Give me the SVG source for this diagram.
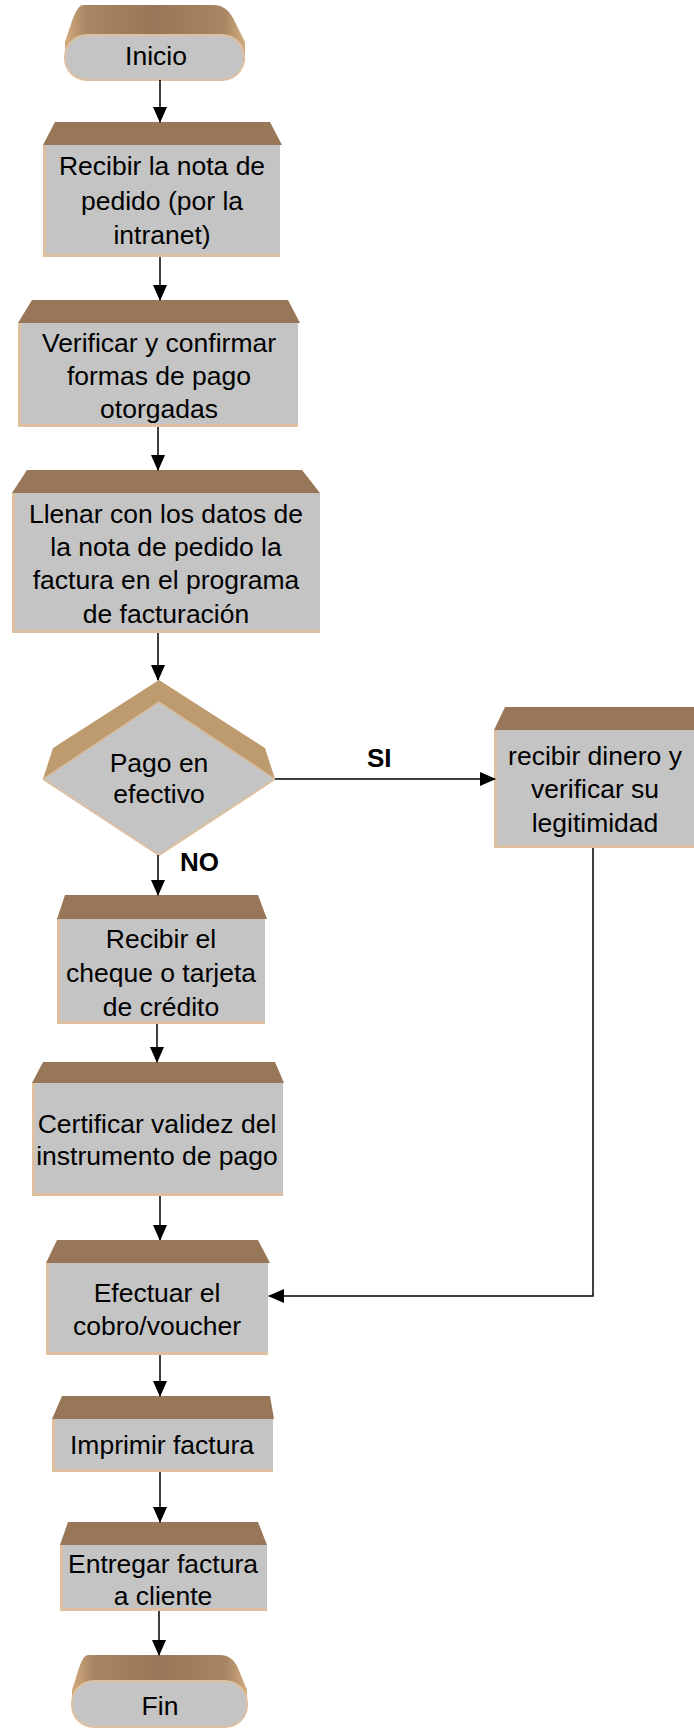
<svg xmlns="http://www.w3.org/2000/svg" width="694" height="1729" viewBox="0 0 694 1729">
<defs>
<linearGradient id="tg" x1="0" y1="0" x2="1" y2="0">
<stop offset="0" stop-color="#d2ab7e"/>
<stop offset="0.12" stop-color="#a88664"/>
<stop offset="0.5" stop-color="#977757"/>
<stop offset="0.88" stop-color="#a88664"/>
<stop offset="1" stop-color="#d2ab7e"/>
</linearGradient>
<marker id="ah" markerWidth="16" markerHeight="14" refX="15" refY="7" orient="auto" markerUnits="userSpaceOnUse">
<path d="M0,0 L16,7 L0,14 Z" fill="#000"/>
</marker>
</defs>
<style>
.top{fill:#977757}
.front{fill:#c4c4c4}
.edge{fill:none;stroke:#dcc0a0;stroke-width:3}
.t{font-family:"Liberation Sans",Arial,sans-serif;font-size:26.5px;fill:#000;text-anchor:middle}
.lb{font-family:"Liberation Sans",Arial,sans-serif;font-size:26px;font-weight:bold;fill:#000}
.c{fill:none;stroke:#000;stroke-width:1.5}
</style>
<rect width="694" height="1729" fill="#fff"/>

<g id="inicio">
<path d="M83,5 L213,5 Q226,5 233,18 L245,42 L245,62 L65,62 L65,42 L73,18 Q78,5 83,5 Z" fill="url(#tg)"/>
<rect x="65" y="35" width="179" height="45" rx="22" ry="22" fill="#c4c4c4" stroke="#dcc0a0" stroke-width="2"/>
<text class="t" x="156" y="65">Inicio</text>
</g>

<g id="n1">
<polygon class="top" points="55,122 270,122 282,145 43,145"/>
<rect class="front" x="43" y="145" width="237" height="112"/>
<polyline class="edge" points="44.5,145 44.5,255.5 280,255.5"/>
<text class="t" x="162" y="175">Recibir la nota de</text>
<text class="t" x="162" y="210">pedido (por la</text>
<text class="t" x="162" y="244">intranet)</text>
</g>

<g id="n2">
<polygon class="top" points="32,300 288,300 300,323 18,323"/>
<rect class="front" x="18" y="323" width="280" height="104"/>
<polyline class="edge" points="19.5,323 19.5,425.5 298,425.5"/>
<text class="t" x="159" y="352">Verificar y confirmar</text>
<text class="t" x="159" y="385">formas de pago</text>
<text class="t" x="159" y="418">otorgadas</text>
</g>

<g id="n3">
<polygon class="top" points="27,470 302,470 320,493 12,493"/>
<rect class="front" x="12" y="493" width="308" height="140"/>
<polyline class="edge" points="13.5,493 13.5,631.5 320,631.5"/>
<text class="t" x="166" y="523">Llenar con los datos de</text>
<text class="t" x="166" y="556">la nota de pedido la</text>
<text class="t" x="166" y="589">factura en el programa</text>
<text class="t" x="166" y="623">de facturación</text>
</g>

<g id="d1">
<polygon points="159,680 265,748 275,779 159,702 43,779 53,748" fill="#bd9b6f"/>
<polygon points="159,702 275,779 159,855 43,779" fill="#c4c4c4"/>
<polyline points="43,779 159,855 275,779" fill="none" stroke="#dcc0a0" stroke-width="2"/>
<polyline points="43,779 159,702 275,779" fill="none" stroke="#d6b896" stroke-width="1.5"/>
<text class="t" x="159" y="772">Pago en</text>
<text class="t" x="159" y="803">efectivo</text>
</g>

<g id="n4">
<polygon class="top" points="65,895 258,895 267,919 57,919"/>
<rect class="front" x="57" y="919" width="208" height="105"/>
<polyline class="edge" points="58.5,919 58.5,1022.5 265,1022.5"/>
<text class="t" x="161" y="948">Recibir el</text>
<text class="t" x="161" y="982">cheque o tarjeta</text>
<text class="t" x="161" y="1016">de crédito</text>
</g>

<g id="n5">
<polygon class="top" points="43,1062 275,1062 284,1083 32,1083"/>
<rect class="front" x="32" y="1083" width="251" height="113"/>
<polyline class="edge" points="33.5,1083 33.5,1194.5 283,1194.5"/>
<text class="t" x="157" y="1133">Certificar validez del</text>
<text class="t" x="157" y="1165">instrumento de pago</text>
</g>

<g id="n6">
<polygon class="top" points="57,1240 258,1240 270,1263 46,1263"/>
<rect class="front" x="46" y="1263" width="222" height="92"/>
<polyline class="edge" points="47.5,1263 47.5,1353.5 268,1353.5"/>
<text class="t" x="157" y="1302">Efectuar el</text>
<text class="t" x="157" y="1335">cobro/voucher</text>
</g>

<g id="n7">
<polygon class="top" points="62,1396 270,1396 274,1419 52,1419"/>
<rect class="front" x="52" y="1419" width="221" height="53"/>
<polyline class="edge" points="53.5,1419 53.5,1470.5 273,1470.5"/>
<text class="t" x="162" y="1454">Imprimir factura</text>
</g>

<g id="n8">
<polygon class="top" points="68,1522 258,1522 267,1545 60,1545"/>
<rect class="front" x="60" y="1545" width="207" height="66"/>
<polyline class="edge" points="61.5,1545 61.5,1609.5 267,1609.5"/>
<text class="t" x="163" y="1573">Entregar factura</text>
<text class="t" x="163" y="1605">a cliente</text>
</g>

<g id="nr">
<polygon class="top" points="505,707 694,707 694,730 494,730"/>
<rect class="front" x="494" y="730" width="200" height="118"/>
<polyline class="edge" points="495.5,730 495.5,846.5 694,846.5"/>
<text class="t" x="595" y="765">recibir dinero y</text>
<text class="t" x="595" y="798">verificar su</text>
<text class="t" x="595" y="832">legitimidad</text>
</g>

<g id="fin">
<path d="M88,1655 L220,1655 Q232,1655 238,1668 L247,1690 L247,1705 L72,1705 L72,1690 L79,1668 Q83,1655 88,1655 Z" fill="url(#tg)"/>
<rect x="72" y="1681" width="175" height="46" rx="22" ry="22" fill="#c4c4c4" stroke="#dcc0a0" stroke-width="2"/>
<text class="t" x="160" y="1715">Fin</text>
</g>

<g id="connectors">
<line class="c" x1="160" y1="80" x2="160" y2="122" marker-end="url(#ah)"/>
<line class="c" x1="160" y1="257" x2="160" y2="300" marker-end="url(#ah)"/>
<line class="c" x1="158" y1="427" x2="158" y2="470" marker-end="url(#ah)"/>
<line class="c" x1="158" y1="633" x2="158" y2="680" marker-end="url(#ah)"/>
<line class="c" x1="158" y1="855" x2="158" y2="895" marker-end="url(#ah)"/>
<line class="c" x1="157" y1="1024" x2="157" y2="1062" marker-end="url(#ah)"/>
<line class="c" x1="160" y1="1196" x2="160" y2="1240" marker-end="url(#ah)"/>
<line class="c" x1="160" y1="1355" x2="160" y2="1396" marker-end="url(#ah)"/>
<line class="c" x1="160" y1="1472" x2="160" y2="1522" marker-end="url(#ah)"/>
<line class="c" x1="159" y1="1611" x2="159" y2="1655" marker-end="url(#ah)"/>
<line class="c" x1="275" y1="779" x2="495" y2="779" marker-end="url(#ah)"/>
<polyline class="c" points="593,848 593,1296 269,1296" marker-end="url(#ah)"/>
<text class="lb" x="367" y="767">SI</text>
<text class="lb" x="180" y="871">NO</text>
</g>
</svg>
